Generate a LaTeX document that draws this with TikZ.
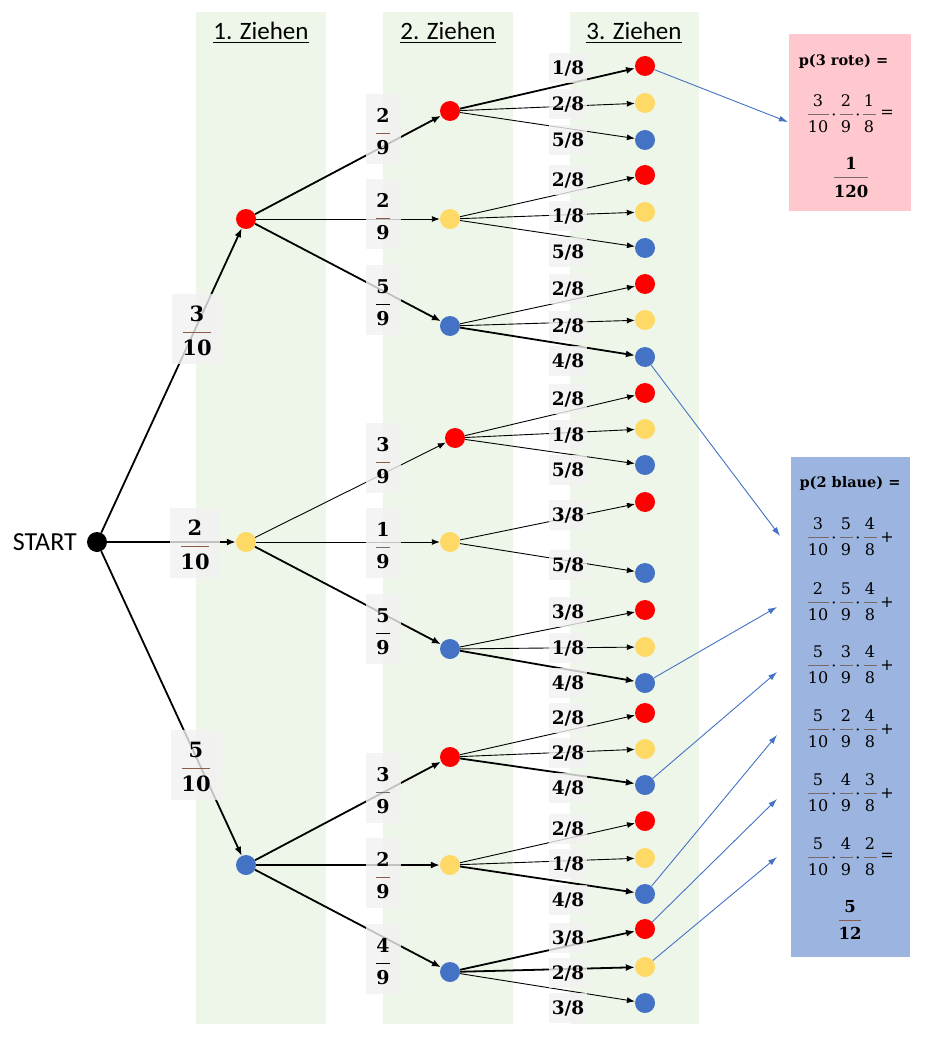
\documentclass[tikz,border=0pt]{standalone}
\usepackage{fontspec}
\newfontfamily\calib{Carlito}
\newfontfamily\dser{DejaVu Serif}
\usetikzlibrary{arrows.meta}
\definecolor{cred}{HTML}{FF0000}
\definecolor{cyel}{HTML}{FFD966}
\definecolor{cblu}{HTML}{4472C4}
\definecolor{band}{HTML}{EEF6E9}
\definecolor{pinkbox}{HTML}{FFC7CE}
\definecolor{bluebox}{HTML}{9CB4E0}
\definecolor{labgray}{HTML}{F2F2F2}
\definecolor{barbrown}{HTML}{8C5A4A}
\definecolor{bargray}{HTML}{7A6A66}
\tikzset{
  dot/.style={circle, inner sep=0pt, minimum size=20pt},
  rdot/.style={dot, fill=cred},
  ydot/.style={dot, fill=cyel},
  bdot/.style={dot, fill=cblu},
  kdot/.style={dot, fill=black},
  thk/.style={line width=1.8pt, -{Latex[length=9pt,width=7pt]}},
  thn/.style={line width=0.9pt, -{Latex[length=8pt,width=6pt]}},
  conn/.style={cblu, line width=0.9pt, -{Latex[length=9pt,width=6pt]}},
  lbox/.style={fill=labgray, fill opacity=0.8, text opacity=1, inner sep=0pt},
  fone/.style={font=\dser\bfseries\fontsize{21}{25}\selectfont, inner sep=0pt},
  ftwo/.style={font=\dser\bfseries\fontsize{19}{23}\selectfont, inner sep=0pt},
  fthree/.style={font=\dser\bfseries\fontsize{18.5}{22}\selectfont},
  bfont/.style={font=\dser\fontsize{16}{20}\selectfont, inner sep=0pt},
  rfont/.style={font=\dser\bfseries\fontsize{16.5}{20}\selectfont, inner sep=0pt},
  tfont/.style={font=\dser\bfseries\fontsize{14.5}{18}\selectfont, inner sep=0pt},
  hdr/.style={font=\calib\fontsize{25}{30}\selectfont, inner sep=0pt, anchor=base},
  fbar/.style={line width=0.8pt},
}
% level-1 fraction label
\newcommand\Lone[5]{%
  \node[lbox, minimum width=50pt, minimum height=70pt] (#1) at (#2,#3) {};
  \node[fone] (#1n) at (#2,#3-15.5) {#4};
  \node[fone] (#1d) at (#2,#3+18.5) {#5};
  \draw[fbar, barbrown] (#2-14,#3+3.5) -- (#2+14,#3+3.5);
}
% level-2 fraction label
\newcommand\Ltwo[6]{%
  \node[lbox, minimum width=35pt, minimum height=70pt] (#1) at (#2,#3) {};
  \node[ftwo] (#1n) at (#2,#3-13.5) {#4};
  \node[ftwo] (#1d) at (#2,#3+18.5) {#5};
  \draw[fbar, #6] (#2-7,#3+4.5) -- (#2+7,#3+4.5);
}
% level-3 label
\newcommand\Lthree[3]{%
  \node[lbox, fthree, minimum width=38pt, minimum height=30pt] (#1) at (568,#2) {#3};
}
% fraction in the result boxes
\newcommand\Bfr[6]{%
  \node[bfont] (#1n) at (#2,#3-13) {#4};
  \node[bfont] (#1d) at (#2,#3+13) {#5};
  \draw[fbar, bargray, line width=0.7pt] (#2-#6,#3) -- (#2+#6,#3);
}
\newcommand\Brow[9]{%
  \Bfr{#1a}{818}{#2}{#3}{#4}{10.5}
  \node[bfont] (#1p) at (834,#2+3) {·};
  \Bfr{#1b}{846}{#2}{#5}{#6}{6.5}
  \node[bfont] (#1q) at (858,#2+3) {·};
  \Bfr{#1c}{870}{#2}{#7}{#8}{6.5}
  \node[bfont] (#1o) at (887,#2) {#9};
}
\begin{document}
\begin{tikzpicture}[x=1pt, y=-1pt]
\fill[white] (0,0) rectangle (945,1040);
\useasboundingbox (0,0) rectangle (945,1040);
% bands
\fill[band] (196,12) rectangle (326,1024);
\fill[band] (383,12) rectangle (513,1024);
\fill[band] (570,12) rectangle (699,1024);
% headers
\node[hdr] (h1) at (261,40) {1. Ziehen};
\node[hdr] (h2) at (448,40) {2. Ziehen};
\node[hdr] (h3) at (634,40) {3. Ziehen};
\draw[line width=1.3pt] ([yshift=-2.5pt]h1.base west) -- ([yshift=-2.5pt]h1.base east);
\draw[line width=1.3pt] ([yshift=-2.5pt]h2.base west) -- ([yshift=-2.5pt]h2.base east);
\draw[line width=1.3pt] ([yshift=-2.5pt]h3.base west) -- ([yshift=-2.5pt]h3.base east);
% START
\node[font=\calib\fontsize{26}{30}\selectfont, inner sep=0pt, anchor=east] (starttxt) at (77,542) {START};
\node[kdot] (start) at (97,542) {};
% level 1
\node[rdot] (r1) at (246,219) {};
\node[ydot] (y1) at (246,542) {};
\node[bdot] (b1) at (246,865) {};
% level 2
\node[rdot] (rr) at (450,111) {};
\node[ydot] (ry) at (450,219) {};
\node[bdot] (rb) at (450,326) {};
\node[rdot] (yr) at (455,438) {};
\node[ydot] (yy) at (450,542) {};
\node[bdot] (yb) at (450,649) {};
\node[rdot] (br) at (450,757) {};
\node[ydot] (by) at (450,865) {};
\node[bdot] (bb) at (450,972) {};
% level 3
\node[rdot] (rrr) at (645,66) {};
\node[ydot] (rry) at (645,103) {};
\node[bdot] (rrb) at (645,140) {};
\node[rdot] (ryr) at (645,175) {};
\node[ydot] (ryy) at (645,212) {};
\node[bdot] (ryb) at (645,248) {};
\node[rdot] (rbr) at (645,284) {};
\node[ydot] (rby) at (645,320) {};
\node[bdot] (rbb) at (645,357) {};
\node[rdot] (yrr) at (645,393) {};
\node[ydot] (yry) at (645,429) {};
\node[bdot] (yrb) at (645,465) {};
\node[rdot] (yyr) at (645,502) {};
\node[bdot] (yyb) at (645,573) {};
\node[rdot] (ybr) at (645,610) {};
\node[ydot] (yby) at (645,647) {};
\node[bdot] (ybb) at (645,683) {};
\node[rdot] (brr) at (645,713) {};
\node[ydot] (bry) at (645,749) {};
\node[bdot] (brb) at (645,785) {};
\node[rdot] (byr) at (645,821) {};
\node[ydot] (byy) at (645,858) {};
\node[bdot] (byb) at (645,894) {};
\node[rdot] (bbr) at (645,929) {};
\node[ydot] (bby) at (645,967) {};
\node[bdot] (bbb) at (645,1003) {};
% edges
\draw[thk] (start) -- (r1);
\draw[thk] (start) -- (y1);
\draw[thk] (start) -- (b1);
\draw[thk] (r1) -- (rr);
\draw[thn] (r1) -- (ry);
\draw[thk] (r1) -- (rb);
\draw[thn] (y1) -- (yr);
\draw[thn] (y1) -- (yy);
\draw[thk] (y1) -- (yb);
\draw[thk] (b1) -- (br);
\draw[thk] (b1) -- (by);
\draw[thk] (b1) -- (bb);
\draw[thk] (rr) -- (rrr);
\draw[thn] (rr) -- (rry);
\draw[thn] (rr) -- (rrb);
\draw[thn] (ry) -- (ryr);
\draw[thn] (ry) -- (ryy);
\draw[thn] (ry) -- (ryb);
\draw[thn] (rb) -- (rbr);
\draw[thn] (rb) -- (rby);
\draw[thk] (rb) -- (rbb);
\draw[thn] (yr) -- (yrr);
\draw[thn] (yr) -- (yry);
\draw[thn] (yr) -- (yrb);
\draw[thn] (yy) -- (yyr);
\draw[thn] (yy) -- (yyb);
\draw[thn] (yb) -- (ybr);
\draw[thn] (yb) -- (yby);
\draw[thk] (yb) -- (ybb);
\draw[thn] (br) -- (brr);
\draw[thn] (br) -- (bry);
\draw[thk] (br) -- (brb);
\draw[thn] (by) -- (byr);
\draw[thn] (by) -- (byy);
\draw[thk] (by) -- (byb);
\draw[thk] (bb) -- (bbr);
\draw[thk] (bb) -- (bby);
\draw[thn] (bb) -- (bbb);
% labels level 1
\Lone{l1a}{197}{329}{3}{10}
\Lone{l1b}{195}{543}{2}{10}
\Lone{l1c}{196}{765}{5}{10}
% labels level 2
\Ltwo{l2a}{383}{129}{2}{9}{barbrown}
\Ltwo{l2b}{383}{214}{2}{9}{barbrown}
\Ltwo{l2c}{383}{300}{5}{9}{black}
\Ltwo{l2d}{383}{458}{3}{9}{barbrown}
\Ltwo{l2e}{383}{543}{1}{9}{bargray}
\Ltwo{l2f}{383}{629}{5}{9}{black}
\Ltwo{l2g}{383}{788}{3}{9}{bargray}
\Ltwo{l2h}{383}{873}{2}{9}{barbrown}
\Ltwo{l2i}{383}{959}{4}{9}{black}
% labels level 3
\Lthree{m1}{68}{1/8}
\Lthree{m2}{104}{2/8}
\Lthree{m3}{140}{5/8}
\Lthree{m4}{180}{2/8}
\Lthree{m5}{216}{1/8}
\Lthree{m6}{252}{5/8}
\Lthree{m7}{289}{2/8}
\Lthree{m8}{326}{2/8}
\Lthree{m9}{361}{4/8}
\Lthree{m10}{399}{2/8}
\Lthree{m11}{435}{1/8}
\Lthree{m12}{470}{5/8}
\Lthree{m13}{515}{3/8}
\Lthree{m14}{565}{5/8}
\Lthree{m15}{612}{3/8}
\Lthree{m16}{648}{1/8}
\Lthree{m17}{683}{4/8}
\Lthree{m18}{718}{2/8}
\Lthree{m19}{753}{2/8}
\Lthree{m20}{788}{4/8}
\Lthree{m21}{829}{2/8}
\Lthree{m22}{864}{1/8}
\Lthree{m23}{900}{4/8}
\Lthree{m24}{938}{3/8}
\Lthree{m25}{973}{2/8}
\Lthree{m26}{1008}{3/8}
% pink result box
\node[fill=pinkbox, minimum width=122pt, minimum height=177pt, inner sep=0pt] (pink) at (850,122.5) {};
\node[tfont] (ptitle) at (843.5,62) {p(3 rote) =};
\Bfr{pa}{818}{114}{3}{10}{10.5}
\node[bfont] (pd1) at (834,117) {·};
\Bfr{pb}{846}{114}{2}{9}{6.5}
\node[bfont] (pd2) at (858,117) {·};
\Bfr{pc}{869}{114}{1}{8}{6.5}
\node[bfont] (peq) at (887,114) {=};
\node[rfont] (pr1) at (851,163) {1};
\node[rfont] (pr2) at (851,191) {120};
\draw[fbar, bargray] (834,177) -- (868,177);
% blue result box
\node[fill=bluebox, minimum width=119pt, minimum height=500pt, inner sep=0pt] (bbox) at (850.5,707) {};
\node[tfont] (btitle) at (850,483) {p(2 blaue) =};
\Brow{ra}{537}{3}{10}{5}{9}{4}{8}{+}
\Brow{rb}{602}{2}{10}{5}{9}{4}{8}{+}
\Brow{rc}{665}{5}{10}{3}{9}{4}{8}{+}
\Brow{rd}{729}{5}{10}{2}{9}{4}{8}{+}
\Brow{re}{793}{5}{10}{4}{9}{3}{8}{+}
\Brow{rf}{857}{5}{10}{4}{9}{2}{8}{=}
\node[rfont] (br1) at (850,907) {5};
\node[rfont] (br2) at (850,933) {12};
\draw[fbar, barbrown] (839,920) -- (861,920);
% blue connectors
\coordinate (tp) at (788,122);
\coordinate (t1) at (780,536);
\coordinate (t2) at (777,607);
\coordinate (t3) at (777,672);
\coordinate (t4) at (777,735);
\coordinate (t5) at (777,799);
\coordinate (t6) at (777,857);
\draw[conn] (rrr) -- (tp);
\draw[conn] (rbb) -- (t1);
\draw[conn] (ybb) -- (t2);
\draw[conn] (brb) -- (t3);
\draw[conn] (byb) -- (t4);
\draw[conn] (bbr) -- (t5);
\draw[conn] (bby) -- (t6);
\end{tikzpicture}
\end{document}
